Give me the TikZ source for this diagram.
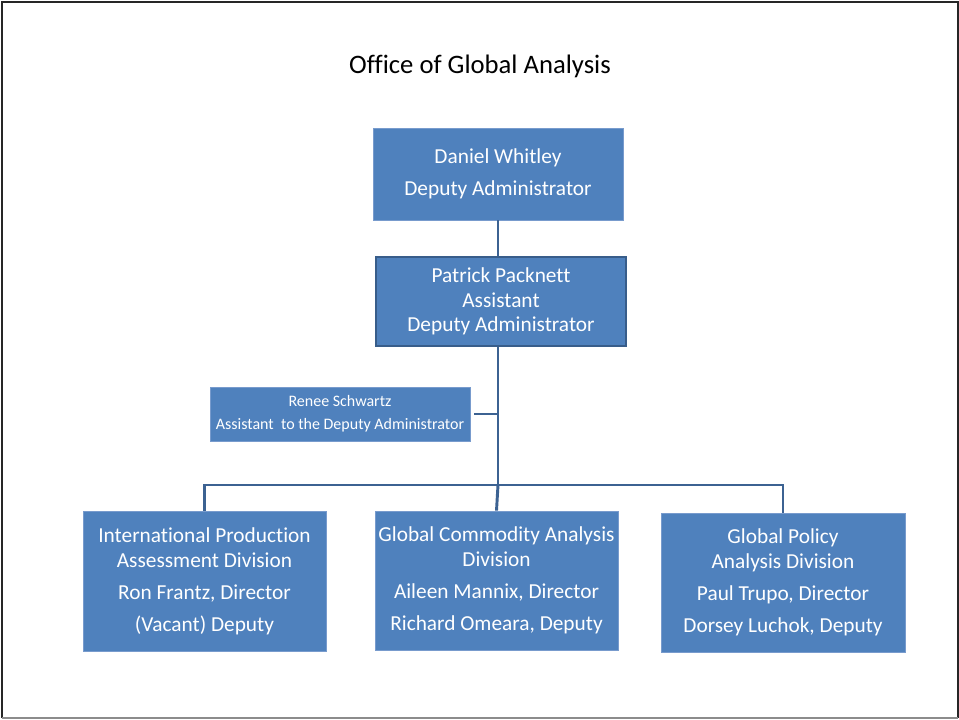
\documentclass[tikz,border=0pt]{standalone}
\usepackage{fontspec}
\setmainfont[Ligatures=NoCommon]{Carlito}
\definecolor{boxblue}{RGB}{79,129,189}
\definecolor{boxedge}{RGB}{120,155,205}
\definecolor{darkedge}{RGB}{56,93,138}
\definecolor{linkblue}{RGB}{60,98,146}
\begin{document}
\begin{tikzpicture}[x=0.75pt,y=-0.75pt,
  orgbox/.style={rectangle,fill=boxblue,draw=boxedge,line width=0.6pt,text=white,align=center,inner sep=0pt,
    font=\fontsize{16}{18.5}\selectfont},
  link/.style={draw=linkblue,line width=2.2pt}]
\useasboundingbox (0,0) rectangle (959,719);
\fill[white] (0,0) rectangle (959,719);
% frame
\draw[black!85,line width=1.6pt] (2,718) -- (2,2) -- (958,2) -- (958,718);
\draw[black!45,line width=1.6pt] (2,718) -- (958,718);
\node[font=\fontsize{20}{24}\selectfont] (title) at (480,66) {Office of Global Analysis};
\node[orgbox,minimum width=250*0.75pt,minimum height=92*0.75pt] (b1) at (498,174)
  {Daniel Whitley\\[5.5pt]Deputy Administrator};
\node[orgbox,draw=darkedge,line width=1.6pt,minimum width=250*0.75pt,minimum height=89*0.75pt] (b2) at (501,301.5)
  {Patrick Packnett\\Assistant\\Deputy Administrator};
\node[orgbox,minimum width=260*0.75pt,minimum height=54*0.75pt,font=\fontsize{12}{14}\selectfont] (ren) at (340,414)
  {Renee Schwartz\\[3pt]Assistant\ \ to the Deputy Administrator};
\node[orgbox,minimum width=243*0.75pt,minimum height=140*0.75pt] (dl) at (204.5,581)
  {International Production\\Assessment Division\\[5.5pt]Ron Frantz, Director\\[5.5pt](Vacant) Deputy};
\node[orgbox,minimum width=243*0.75pt,minimum height=139*0.75pt] (dm) at (496.5,580.5)
  {Global Commodity Analysis\\Division\\[5.5pt]Aileen Mannix, Director\\[5.5pt]Richard Omeara, Deputy};
\node[orgbox,minimum width=244*0.75pt,minimum height=139*0.75pt] (dr) at (783,582.5)
  {Global Policy\\Analysis Division\\[5.5pt]Paul Trupo, Director\\[5.5pt]Dorsey Luchok, Deputy};
\coordinate (bus) at (498,485);
\coordinate (rtap) at (474,414);
\draw[link] (b1.south) -- (b1.south |- b2.north);
\draw[link] (b1.south |- b2.south) -- (bus);
\draw[link] (rtap) -- (rtap -| bus);
\draw[link] (dl.north) |- (dr.north |- bus) -- (dr.north);
\draw[link] (bus) -- (dm.north);
\end{tikzpicture}
\end{document}
